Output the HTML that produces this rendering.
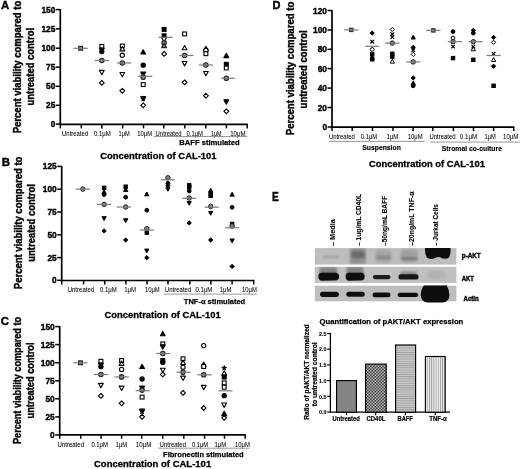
<!DOCTYPE html><html><head><meta charset="utf-8"><style>html,body{margin:0;padding:0;background:#fff;width:520px;height:469px;overflow:hidden;}svg{display:block;will-change:transform;}text{font-family:"Liberation Sans", sans-serif;}</style></head><body>
<svg width="520" height="469" viewBox="0 0 520 469">
<text x="1.0" y="9.2" font-size="11.4" font-weight="bold" text-anchor="start" fill="#000" stroke="#000" stroke-width="0.4">A</text>
<text transform="translate(21.4,67.0) rotate(-90)" font-size="10.2" font-weight="bold" text-anchor="middle" fill="#000" textLength="132.5" lengthAdjust="spacingAndGlyphs" stroke="#000" stroke-width="0.4">Percent viability compared to</text>
<text transform="translate(34.2,66.7) rotate(-90)" font-size="10.2" font-weight="bold" text-anchor="middle" fill="#000" textLength="77.5" lengthAdjust="spacingAndGlyphs" stroke="#000" stroke-width="0.4">untreated control</text>
<line x1="60.3" y1="9.1" x2="60.3" y2="125.0" stroke="#000" stroke-width="1.7"/>
<line x1="55.8" y1="9.6" x2="60.3" y2="9.6" stroke="#000" stroke-width="1.5"/>
<text x="55.3" y="12.6" font-size="8.5" font-weight="bold" text-anchor="end" fill="#000" textLength="13.9" lengthAdjust="spacingAndGlyphs" stroke="#000" stroke-width="0.4">150</text>
<line x1="55.8" y1="28.8" x2="60.3" y2="28.8" stroke="#000" stroke-width="1.5"/>
<text x="55.3" y="31.8" font-size="8.5" font-weight="bold" text-anchor="end" fill="#000" textLength="13.9" lengthAdjust="spacingAndGlyphs" stroke="#000" stroke-width="0.4">125</text>
<line x1="55.8" y1="48.2" x2="60.3" y2="48.2" stroke="#000" stroke-width="1.5"/>
<text x="55.3" y="51.2" font-size="8.5" font-weight="bold" text-anchor="end" fill="#000" textLength="13.9" lengthAdjust="spacingAndGlyphs" stroke="#000" stroke-width="0.4">100</text>
<line x1="55.8" y1="67.2" x2="60.3" y2="67.2" stroke="#000" stroke-width="1.5"/>
<text x="55.3" y="70.2" font-size="8.5" font-weight="bold" text-anchor="end" fill="#000" textLength="9.3" lengthAdjust="spacingAndGlyphs" stroke="#000" stroke-width="0.4">75</text>
<line x1="55.8" y1="86.3" x2="60.3" y2="86.3" stroke="#000" stroke-width="1.5"/>
<text x="55.3" y="89.3" font-size="8.5" font-weight="bold" text-anchor="end" fill="#000" textLength="9.3" lengthAdjust="spacingAndGlyphs" stroke="#000" stroke-width="0.4">50</text>
<line x1="55.8" y1="105.3" x2="60.3" y2="105.3" stroke="#000" stroke-width="1.5"/>
<text x="55.3" y="108.3" font-size="8.5" font-weight="bold" text-anchor="end" fill="#000" textLength="9.3" lengthAdjust="spacingAndGlyphs" stroke="#000" stroke-width="0.4">25</text>
<line x1="55.8" y1="124.1" x2="60.3" y2="124.1" stroke="#000" stroke-width="1.5"/>
<text x="55.3" y="127.1" font-size="8.5" font-weight="bold" text-anchor="end" fill="#000" textLength="4.6" lengthAdjust="spacingAndGlyphs" stroke="#000" stroke-width="0.4">0</text>
<line x1="59.5" y1="124.4" x2="247.9" y2="124.4" stroke="#000" stroke-width="1.7"/>
<line x1="60.3" y1="124.4" x2="60.3" y2="128.4" stroke="#000" stroke-width="1.5"/>
<line x1="81.3" y1="124.4" x2="81.3" y2="128.4" stroke="#000" stroke-width="1.5"/>
<line x1="101.9" y1="124.4" x2="101.9" y2="128.4" stroke="#000" stroke-width="1.5"/>
<line x1="122.7" y1="124.4" x2="122.7" y2="128.4" stroke="#000" stroke-width="1.5"/>
<line x1="143.5" y1="124.4" x2="143.5" y2="128.4" stroke="#000" stroke-width="1.5"/>
<line x1="163.8" y1="124.4" x2="163.8" y2="128.4" stroke="#000" stroke-width="1.5"/>
<line x1="184.8" y1="124.4" x2="184.8" y2="128.4" stroke="#000" stroke-width="1.5"/>
<line x1="205.8" y1="124.4" x2="205.8" y2="128.4" stroke="#000" stroke-width="1.5"/>
<line x1="226.4" y1="124.4" x2="226.4" y2="128.4" stroke="#000" stroke-width="1.5"/>
<line x1="247.2" y1="124.4" x2="247.2" y2="128.4" stroke="#000" stroke-width="1.5"/>
<text x="62.1" y="136.0" font-size="6.4" font-weight="normal" text-anchor="start" fill="#000" textLength="26.0" lengthAdjust="spacingAndGlyphs" stroke="#000" stroke-width="0.05">Untreated</text>
<text x="94.0" y="136.0" font-size="6.4" font-weight="normal" text-anchor="start" fill="#000" textLength="16.8" lengthAdjust="spacingAndGlyphs" stroke="#000" stroke-width="0.05">0.1&#956;M</text>
<text x="118.5" y="136.0" font-size="6.4" font-weight="normal" text-anchor="start" fill="#000" textLength="11.1" lengthAdjust="spacingAndGlyphs" stroke="#000" stroke-width="0.05">1&#956;M</text>
<text x="137.3" y="136.0" font-size="6.4" font-weight="normal" text-anchor="start" fill="#000" textLength="14.8" lengthAdjust="spacingAndGlyphs" stroke="#000" stroke-width="0.05">10&#956;M</text>
<text x="155.6" y="136.0" font-size="6.4" font-weight="normal" text-anchor="start" fill="#000" textLength="25.9" lengthAdjust="spacingAndGlyphs" stroke="#000" stroke-width="0.05">Untreated</text>
<text x="186.6" y="136.0" font-size="6.4" font-weight="normal" text-anchor="start" fill="#000" textLength="16.4" lengthAdjust="spacingAndGlyphs" stroke="#000" stroke-width="0.05">0.1&#956;M</text>
<text x="211.0" y="136.0" font-size="6.4" font-weight="normal" text-anchor="start" fill="#000" textLength="10.3" lengthAdjust="spacingAndGlyphs" stroke="#000" stroke-width="0.05">1&#956;M</text>
<text x="230.2" y="136.0" font-size="6.4" font-weight="normal" text-anchor="start" fill="#000" textLength="15.5" lengthAdjust="spacingAndGlyphs" stroke="#000" stroke-width="0.05">10&#956;M</text>
<line x1="153.8" y1="136.5" x2="247.2" y2="136.5" stroke="#8c8c8c" stroke-width="0.9"/>
<text x="179.3" y="145.4" font-size="7.55" font-weight="bold" text-anchor="start" fill="#000" textLength="60.4" lengthAdjust="spacingAndGlyphs" stroke="#000" stroke-width="0.25">BAFF stimulated</text>
<text x="100.3" y="159.4" font-size="9.6" font-weight="bold" text-anchor="start" fill="#000" textLength="116.3" lengthAdjust="spacingAndGlyphs" stroke="#000" stroke-width="0.3">Concentration of CAL-101</text>
<rect x="78.77" y="46.37" width="3.86" height="3.86" fill="#808080" stroke="#222" stroke-width="1.10"/>
<line x1="73.6" y1="48.3" x2="87.8" y2="48.3" stroke="#7a7a7a" stroke-width="1.2"/>
<rect x="99.87" y="44.47" width="3.86" height="3.86" fill="#fff" stroke="#000" stroke-width="1.10"/>
<polygon points="101.80,52.48 104.19,48.16 99.41,48.16" fill="#000" stroke="#000" stroke-width="1.10" stroke-linejoin="round"/>
<circle cx="101.80" cy="51.60" r="2.12" fill="#000" stroke="#000" stroke-width="1.10"/>
<circle cx="101.80" cy="60.50" r="2.25" fill="#808080" stroke="#222" stroke-width="1.10"/>
<polygon points="101.80,74.68 104.19,70.36 99.41,70.36" fill="#fff" stroke="#000" stroke-width="1.10" stroke-linejoin="round"/>
<polygon points="101.80,80.51 104.19,82.90 101.80,85.29 99.41,82.90" fill="#fff" stroke="#000" stroke-width="1.10"/>
<line x1="94.7" y1="60.5" x2="108.9" y2="60.5" stroke="#7a7a7a" stroke-width="1.2"/>
<rect x="120.37" y="44.07" width="3.86" height="3.86" fill="#fff" stroke="#000" stroke-width="1.10"/>
<polygon points="122.30,46.52 124.69,50.84 119.91,50.84" fill="#fff" stroke="#000" stroke-width="1.10" stroke-linejoin="round"/>
<circle cx="122.30" cy="55.20" r="2.12" fill="#fff" stroke="#000" stroke-width="1.10"/>
<circle cx="122.30" cy="63.00" r="2.25" fill="#808080" stroke="#222" stroke-width="1.10"/>
<polygon points="122.30,76.78 124.69,72.46 119.91,72.46" fill="#fff" stroke="#000" stroke-width="1.10" stroke-linejoin="round"/>
<polygon points="122.30,88.41 124.69,90.80 122.30,93.19 119.91,90.80" fill="#fff" stroke="#000" stroke-width="1.10"/>
<line x1="116.9" y1="63.0" x2="131.1" y2="63.0" stroke="#7a7a7a" stroke-width="1.2"/>
<polygon points="143.20,49.72 145.59,54.04 140.81,54.04" fill="#000" stroke="#000" stroke-width="1.10" stroke-linejoin="round"/>
<circle cx="143.20" cy="65.20" r="2.12" fill="#000" stroke="#000" stroke-width="1.10"/>
<polygon points="143.20,76.48 145.59,72.16 140.81,72.16" fill="#000" stroke="#000" stroke-width="1.10" stroke-linejoin="round"/>
<circle cx="143.20" cy="77.30" r="2.25" fill="#808080" stroke="#222" stroke-width="1.10"/>
<rect x="141.27" y="82.67" width="3.86" height="3.86" fill="#fff" stroke="#000" stroke-width="1.10"/>
<polygon points="143.20,100.88 145.59,96.56 140.81,96.56" fill="#000" stroke="#000" stroke-width="1.10" stroke-linejoin="round"/>
<polygon points="143.20,95.59 144.07,97.71 146.35,97.88 144.60,99.35 145.15,101.58 143.20,100.37 141.25,101.58 141.80,99.35 140.05,97.88 142.33,97.71" fill="#000"/>
<polygon points="143.20,102.91 145.59,105.30 143.20,107.69 140.81,105.30" fill="#fff" stroke="#000" stroke-width="1.10"/>
<line x1="138.0" y1="76.3" x2="152.2" y2="76.3" stroke="#7a7a7a" stroke-width="1.2"/>
<rect x="162.17" y="27.47" width="3.86" height="3.86" fill="#000" stroke="#000" stroke-width="1.10"/>
<rect x="162.17" y="33.87" width="3.86" height="3.86" fill="#000" stroke="#000" stroke-width="1.10"/>
<polygon points="164.10,41.88 166.49,37.56 161.71,37.56" fill="#fff" stroke="#000" stroke-width="1.10" stroke-linejoin="round"/>
<circle cx="164.10" cy="42.90" r="2.25" fill="#808080" stroke="#222" stroke-width="1.10"/>
<polygon points="164.10,43.32 166.49,47.64 161.71,47.64" fill="#808080" stroke="#222" stroke-width="1.10" stroke-linejoin="round"/>
<polygon points="164.10,51.51 166.49,53.90 164.10,56.29 161.71,53.90" fill="#fff" stroke="#000" stroke-width="1.10"/>
<line x1="158.5" y1="37.3" x2="172.7" y2="37.3" stroke="#7a7a7a" stroke-width="1.2"/>
<rect x="182.67" y="31.97" width="3.86" height="3.86" fill="#fff" stroke="#000" stroke-width="1.10"/>
<polygon points="184.60,45.42 186.99,49.74 182.21,49.74" fill="#fff" stroke="#000" stroke-width="1.10" stroke-linejoin="round"/>
<circle cx="184.60" cy="55.50" r="2.25" fill="#808080" stroke="#222" stroke-width="1.10"/>
<polygon points="184.60,65.88 186.99,61.56 182.21,61.56" fill="#fff" stroke="#000" stroke-width="1.10" stroke-linejoin="round"/>
<polygon points="184.60,79.91 186.99,82.30 184.60,84.69 182.21,82.30" fill="#fff" stroke="#000" stroke-width="1.10"/>
<line x1="179.3" y1="55.5" x2="193.5" y2="55.5" stroke="#7a7a7a" stroke-width="1.2"/>
<polygon points="205.90,46.32 208.29,50.64 203.51,50.64" fill="#fff" stroke="#000" stroke-width="1.10" stroke-linejoin="round"/>
<circle cx="205.90" cy="50.20" r="2.12" fill="#fff" stroke="#000" stroke-width="1.10"/>
<rect x="203.97" y="51.77" width="3.86" height="3.86" fill="#fff" stroke="#000" stroke-width="1.10"/>
<circle cx="205.90" cy="65.00" r="2.25" fill="#808080" stroke="#222" stroke-width="1.10"/>
<polygon points="205.90,75.78 208.29,71.46 203.51,71.46" fill="#fff" stroke="#000" stroke-width="1.10" stroke-linejoin="round"/>
<polygon points="205.90,93.31 208.29,95.70 205.90,98.09 203.51,95.70" fill="#fff" stroke="#000" stroke-width="1.10"/>
<line x1="198.8" y1="65.0" x2="213.0" y2="65.0" stroke="#7a7a7a" stroke-width="1.2"/>
<polygon points="226.30,53.32 228.69,57.64 223.91,57.64" fill="#000" stroke="#000" stroke-width="1.10" stroke-linejoin="round"/>
<rect x="224.37" y="62.37" width="3.86" height="3.86" fill="#000" stroke="#000" stroke-width="1.10"/>
<rect x="224.37" y="66.07" width="3.86" height="3.86" fill="#fff" stroke="#000" stroke-width="1.10"/>
<circle cx="226.30" cy="78.20" r="2.25" fill="#808080" stroke="#222" stroke-width="1.10"/>
<polygon points="226.30,104.18 228.69,99.86 223.91,99.86" fill="#000" stroke="#000" stroke-width="1.10" stroke-linejoin="round"/>
<polygon points="226.30,108.91 228.69,111.30 226.30,113.69 223.91,111.30" fill="#fff" stroke="#000" stroke-width="1.10"/>
<line x1="220.7" y1="78.2" x2="234.9" y2="78.2" stroke="#7a7a7a" stroke-width="1.2"/>
<text x="1.8" y="166.0" font-size="11.4" font-weight="bold" text-anchor="start" fill="#000" stroke="#000" stroke-width="0.4">B</text>
<text transform="translate(22.1,222.9) rotate(-90)" font-size="10.2" font-weight="bold" text-anchor="middle" fill="#000" textLength="132.5" lengthAdjust="spacingAndGlyphs" stroke="#000" stroke-width="0.4">Percent viability compared to</text>
<text transform="translate(34.6,222.9) rotate(-90)" font-size="10.2" font-weight="bold" text-anchor="middle" fill="#000" textLength="77.5" lengthAdjust="spacingAndGlyphs" stroke="#000" stroke-width="0.4">untreated control</text>
<line x1="61.7" y1="165.9" x2="61.7" y2="281.2" stroke="#000" stroke-width="1.7"/>
<line x1="57.2" y1="166.4" x2="61.7" y2="166.4" stroke="#000" stroke-width="1.5"/>
<text x="56.7" y="169.4" font-size="8.5" font-weight="bold" text-anchor="end" fill="#000" textLength="13.9" lengthAdjust="spacingAndGlyphs" stroke="#000" stroke-width="0.4">125</text>
<line x1="57.2" y1="189.2" x2="61.7" y2="189.2" stroke="#000" stroke-width="1.5"/>
<text x="56.7" y="192.2" font-size="8.5" font-weight="bold" text-anchor="end" fill="#000" textLength="13.9" lengthAdjust="spacingAndGlyphs" stroke="#000" stroke-width="0.4">100</text>
<line x1="57.2" y1="212.0" x2="61.7" y2="212.0" stroke="#000" stroke-width="1.5"/>
<text x="56.7" y="215.0" font-size="8.5" font-weight="bold" text-anchor="end" fill="#000" textLength="9.3" lengthAdjust="spacingAndGlyphs" stroke="#000" stroke-width="0.4">75</text>
<line x1="57.2" y1="234.8" x2="61.7" y2="234.8" stroke="#000" stroke-width="1.5"/>
<text x="56.7" y="237.8" font-size="8.5" font-weight="bold" text-anchor="end" fill="#000" textLength="9.3" lengthAdjust="spacingAndGlyphs" stroke="#000" stroke-width="0.4">50</text>
<line x1="57.2" y1="257.6" x2="61.7" y2="257.6" stroke="#000" stroke-width="1.5"/>
<text x="56.7" y="260.6" font-size="8.5" font-weight="bold" text-anchor="end" fill="#000" textLength="9.3" lengthAdjust="spacingAndGlyphs" stroke="#000" stroke-width="0.4">25</text>
<line x1="57.2" y1="280.3" x2="61.7" y2="280.3" stroke="#000" stroke-width="1.5"/>
<text x="56.7" y="283.3" font-size="8.5" font-weight="bold" text-anchor="end" fill="#000" textLength="4.6" lengthAdjust="spacingAndGlyphs" stroke="#000" stroke-width="0.4">0</text>
<line x1="60.9" y1="280.5" x2="254.4" y2="280.5" stroke="#000" stroke-width="1.7"/>
<line x1="61.7" y1="280.5" x2="61.7" y2="284.5" stroke="#000" stroke-width="1.5"/>
<line x1="83.6" y1="280.5" x2="83.6" y2="284.5" stroke="#000" stroke-width="1.5"/>
<line x1="104.7" y1="280.5" x2="104.7" y2="284.5" stroke="#000" stroke-width="1.5"/>
<line x1="125.9" y1="280.5" x2="125.9" y2="284.5" stroke="#000" stroke-width="1.5"/>
<line x1="147.0" y1="280.5" x2="147.0" y2="284.5" stroke="#000" stroke-width="1.5"/>
<line x1="168.0" y1="280.5" x2="168.0" y2="284.5" stroke="#000" stroke-width="1.5"/>
<line x1="189.8" y1="280.5" x2="189.8" y2="284.5" stroke="#000" stroke-width="1.5"/>
<line x1="210.9" y1="280.5" x2="210.9" y2="284.5" stroke="#000" stroke-width="1.5"/>
<line x1="232.1" y1="280.5" x2="232.1" y2="284.5" stroke="#000" stroke-width="1.5"/>
<line x1="253.7" y1="280.5" x2="253.7" y2="284.5" stroke="#000" stroke-width="1.5"/>
<text x="67.7" y="292.3" font-size="6.4" font-weight="normal" text-anchor="start" fill="#000" textLength="26.4" lengthAdjust="spacingAndGlyphs" stroke="#000" stroke-width="0.05">Untreated</text>
<text x="100.0" y="292.3" font-size="6.4" font-weight="normal" text-anchor="start" fill="#000" textLength="16.8" lengthAdjust="spacingAndGlyphs" stroke="#000" stroke-width="0.05">0.1&#956;M</text>
<text x="124.2" y="292.3" font-size="6.4" font-weight="normal" text-anchor="start" fill="#000" textLength="11.8" lengthAdjust="spacingAndGlyphs" stroke="#000" stroke-width="0.05">1&#956;M</text>
<text x="144.9" y="292.3" font-size="6.4" font-weight="normal" text-anchor="start" fill="#000" textLength="14.8" lengthAdjust="spacingAndGlyphs" stroke="#000" stroke-width="0.05">10&#956;M</text>
<text x="164.8" y="292.3" font-size="6.4" font-weight="normal" text-anchor="start" fill="#000" textLength="26.5" lengthAdjust="spacingAndGlyphs" stroke="#000" stroke-width="0.05">Untreated</text>
<text x="195.5" y="292.3" font-size="6.4" font-weight="normal" text-anchor="start" fill="#000" textLength="16.9" lengthAdjust="spacingAndGlyphs" stroke="#000" stroke-width="0.05">0.1&#956;M</text>
<text x="219.8" y="292.3" font-size="6.4" font-weight="normal" text-anchor="start" fill="#000" textLength="11.6" lengthAdjust="spacingAndGlyphs" stroke="#000" stroke-width="0.05">1&#956;M</text>
<text x="242.0" y="292.3" font-size="6.4" font-weight="normal" text-anchor="start" fill="#000" textLength="14.8" lengthAdjust="spacingAndGlyphs" stroke="#000" stroke-width="0.05">10&#956;M</text>
<line x1="163.8" y1="294.1" x2="256.8" y2="294.1" stroke="#8c8c8c" stroke-width="0.9"/>
<text x="183.8" y="303.5" font-size="7.55" font-weight="bold" text-anchor="start" fill="#000" textLength="61.4" lengthAdjust="spacingAndGlyphs" stroke="#000" stroke-width="0.25">TNF-&#945; stimulated</text>
<text x="104.5" y="318.0" font-size="9.6" font-weight="bold" text-anchor="start" fill="#000" textLength="116.2" lengthAdjust="spacingAndGlyphs" stroke="#000" stroke-width="0.3">Concentration of CAL-101</text>
<circle cx="82.80" cy="189.10" r="2.25" fill="#808080" stroke="#222" stroke-width="0.99"/>
<line x1="75.7" y1="189.1" x2="89.9" y2="189.1" stroke="#7a7a7a" stroke-width="1.2"/>
<rect x="102.38" y="186.08" width="3.44" height="3.44" fill="#000" stroke="#000" stroke-width="0.99"/>
<polygon points="104.10,189.79 106.23,193.64 101.97,193.64" fill="#000" stroke="#000" stroke-width="0.99" stroke-linejoin="round"/>
<circle cx="104.10" cy="194.60" r="1.89" fill="#000" stroke="#000" stroke-width="0.99"/>
<circle cx="104.10" cy="204.40" r="2.25" fill="#808080" stroke="#222" stroke-width="0.99"/>
<polygon points="104.10,220.51 106.23,216.66 101.97,216.66" fill="#000" stroke="#000" stroke-width="0.99" stroke-linejoin="round"/>
<polygon points="104.10,228.77 106.23,230.90 104.10,233.03 101.97,230.90" fill="#000" stroke="#000" stroke-width="0.99"/>
<line x1="97.0" y1="204.4" x2="111.2" y2="204.4" stroke="#7a7a7a" stroke-width="1.2"/>
<rect x="123.98" y="184.98" width="3.44" height="3.44" fill="#000" stroke="#000" stroke-width="0.99"/>
<polygon points="125.70,187.69 127.83,191.54 123.57,191.54" fill="#000" stroke="#000" stroke-width="0.99" stroke-linejoin="round"/>
<circle cx="125.70" cy="197.20" r="1.89" fill="#000" stroke="#000" stroke-width="0.99"/>
<circle cx="125.70" cy="207.00" r="2.25" fill="#808080" stroke="#222" stroke-width="0.99"/>
<polygon points="125.70,222.61 127.83,218.76 123.57,218.76" fill="#000" stroke="#000" stroke-width="0.99" stroke-linejoin="round"/>
<polygon points="125.70,237.87 127.83,240.00 125.70,242.13 123.57,240.00" fill="#000" stroke="#000" stroke-width="0.99"/>
<line x1="116.8" y1="207.0" x2="131.0" y2="207.0" stroke="#7a7a7a" stroke-width="1.2"/>
<polygon points="146.80,191.99 148.93,195.84 144.67,195.84" fill="#000" stroke="#000" stroke-width="0.99" stroke-linejoin="round"/>
<circle cx="146.80" cy="210.20" r="1.89" fill="#000" stroke="#000" stroke-width="0.99"/>
<rect x="145.08" y="230.88" width="3.44" height="3.44" fill="#000" stroke="#000" stroke-width="0.99"/>
<circle cx="146.80" cy="228.70" r="2.25" fill="#808080" stroke="#222" stroke-width="0.99"/>
<polygon points="146.80,252.91 148.93,249.06 144.67,249.06" fill="#000" stroke="#000" stroke-width="0.99" stroke-linejoin="round"/>
<polygon points="146.80,255.57 148.93,257.70 146.80,259.83 144.67,257.70" fill="#000" stroke="#000" stroke-width="0.99"/>
<line x1="139.7" y1="230.0" x2="153.9" y2="230.0" stroke="#7a7a7a" stroke-width="1.2"/>
<circle cx="167.90" cy="177.80" r="2.25" fill="#808080" stroke="#222" stroke-width="0.99"/>
<circle cx="167.90" cy="183.30" r="1.89" fill="#000" stroke="#000" stroke-width="0.99"/>
<polygon points="167.90,183.67 170.03,185.80 167.90,187.93 165.77,185.80" fill="#000" stroke="#000" stroke-width="0.99"/>
<polygon points="167.90,191.31 170.03,187.46 165.77,187.46" fill="#000" stroke="#000" stroke-width="0.99" stroke-linejoin="round"/>
<line x1="160.8" y1="179.8" x2="175.0" y2="179.8" stroke="#7a7a7a" stroke-width="1.2"/>
<rect x="187.48" y="183.58" width="3.44" height="3.44" fill="#000" stroke="#000" stroke-width="0.99"/>
<rect x="187.48" y="185.28" width="3.44" height="3.44" fill="#000" stroke="#000" stroke-width="0.99"/>
<circle cx="189.20" cy="191.00" r="1.89" fill="#000" stroke="#000" stroke-width="0.99"/>
<circle cx="189.20" cy="198.00" r="2.25" fill="#808080" stroke="#222" stroke-width="0.99"/>
<polygon points="189.20,205.31 191.33,201.46 187.07,201.46" fill="#000" stroke="#000" stroke-width="0.99" stroke-linejoin="round"/>
<polygon points="189.20,220.77 191.33,222.90 189.20,225.03 187.07,222.90" fill="#000" stroke="#000" stroke-width="0.99"/>
<line x1="182.1" y1="198.3" x2="196.3" y2="198.3" stroke="#7a7a7a" stroke-width="1.2"/>
<polygon points="210.70,188.29 212.83,192.14 208.57,192.14" fill="#000" stroke="#000" stroke-width="0.99" stroke-linejoin="round"/>
<rect x="208.98" y="192.28" width="3.44" height="3.44" fill="#000" stroke="#000" stroke-width="0.99"/>
<rect x="208.98" y="194.08" width="3.44" height="3.44" fill="#000" stroke="#000" stroke-width="0.99"/>
<circle cx="210.70" cy="206.40" r="2.25" fill="#808080" stroke="#222" stroke-width="0.99"/>
<polygon points="210.70,215.21 212.83,211.36 208.57,211.36" fill="#000" stroke="#000" stroke-width="0.99" stroke-linejoin="round"/>
<polygon points="210.70,237.87 212.83,240.00 210.70,242.13 208.57,240.00" fill="#000" stroke="#000" stroke-width="0.99"/>
<line x1="204.6" y1="207.2" x2="218.8" y2="207.2" stroke="#7a7a7a" stroke-width="1.2"/>
<polygon points="232.10,192.29 234.23,196.14 229.97,196.14" fill="#000" stroke="#000" stroke-width="0.99" stroke-linejoin="round"/>
<circle cx="232.10" cy="207.30" r="1.89" fill="#000" stroke="#000" stroke-width="0.99"/>
<rect x="230.38" y="222.28" width="3.44" height="3.44" fill="#000" stroke="#000" stroke-width="0.99"/>
<circle cx="232.10" cy="226.10" r="2.25" fill="#808080" stroke="#222" stroke-width="0.99"/>
<polygon points="232.10,242.81 234.23,238.96 229.97,238.96" fill="#000" stroke="#000" stroke-width="0.99" stroke-linejoin="round"/>
<polygon points="232.10,264.27 234.23,266.40 232.10,268.53 229.97,266.40" fill="#000" stroke="#000" stroke-width="0.99"/>
<line x1="225.0" y1="227.8" x2="239.2" y2="227.8" stroke="#7a7a7a" stroke-width="1.2"/>
<text x="0.8" y="325.2" font-size="11.4" font-weight="bold" text-anchor="start" fill="#000" stroke="#000" stroke-width="0.4">C</text>
<text transform="translate(21.4,380.5) rotate(-90)" font-size="10.2" font-weight="bold" text-anchor="middle" fill="#000" textLength="127.0" lengthAdjust="spacingAndGlyphs" stroke="#000" stroke-width="0.4">Percent viability compared to</text>
<text transform="translate(33.8,380.5) rotate(-90)" font-size="10.2" font-weight="bold" text-anchor="middle" fill="#000" textLength="76.0" lengthAdjust="spacingAndGlyphs" stroke="#000" stroke-width="0.4">untreated control</text>
<line x1="59.7" y1="326.1" x2="59.7" y2="435.9" stroke="#000" stroke-width="1.7"/>
<line x1="55.2" y1="326.6" x2="59.7" y2="326.6" stroke="#000" stroke-width="1.5"/>
<text x="54.7" y="329.6" font-size="8.5" font-weight="bold" text-anchor="end" fill="#000" textLength="13.9" lengthAdjust="spacingAndGlyphs" stroke="#000" stroke-width="0.4">150</text>
<line x1="55.2" y1="344.6" x2="59.7" y2="344.6" stroke="#000" stroke-width="1.5"/>
<text x="54.7" y="347.6" font-size="8.5" font-weight="bold" text-anchor="end" fill="#000" textLength="13.9" lengthAdjust="spacingAndGlyphs" stroke="#000" stroke-width="0.4">125</text>
<line x1="55.2" y1="362.8" x2="59.7" y2="362.8" stroke="#000" stroke-width="1.5"/>
<text x="54.7" y="365.8" font-size="8.5" font-weight="bold" text-anchor="end" fill="#000" textLength="13.9" lengthAdjust="spacingAndGlyphs" stroke="#000" stroke-width="0.4">100</text>
<line x1="55.2" y1="380.8" x2="59.7" y2="380.8" stroke="#000" stroke-width="1.5"/>
<text x="54.7" y="383.8" font-size="8.5" font-weight="bold" text-anchor="end" fill="#000" textLength="9.3" lengthAdjust="spacingAndGlyphs" stroke="#000" stroke-width="0.4">75</text>
<line x1="55.2" y1="398.8" x2="59.7" y2="398.8" stroke="#000" stroke-width="1.5"/>
<text x="54.7" y="401.8" font-size="8.5" font-weight="bold" text-anchor="end" fill="#000" textLength="9.3" lengthAdjust="spacingAndGlyphs" stroke="#000" stroke-width="0.4">50</text>
<line x1="55.2" y1="416.9" x2="59.7" y2="416.9" stroke="#000" stroke-width="1.5"/>
<text x="54.7" y="419.9" font-size="8.5" font-weight="bold" text-anchor="end" fill="#000" textLength="9.3" lengthAdjust="spacingAndGlyphs" stroke="#000" stroke-width="0.4">25</text>
<line x1="55.2" y1="435.0" x2="59.7" y2="435.0" stroke="#000" stroke-width="1.5"/>
<text x="54.7" y="438.0" font-size="8.5" font-weight="bold" text-anchor="end" fill="#000" textLength="4.6" lengthAdjust="spacingAndGlyphs" stroke="#000" stroke-width="0.4">0</text>
<line x1="58.9" y1="434.8" x2="245.9" y2="434.8" stroke="#000" stroke-width="1.7"/>
<line x1="59.7" y1="434.8" x2="59.7" y2="438.8" stroke="#000" stroke-width="1.5"/>
<line x1="80.8" y1="434.8" x2="80.8" y2="438.8" stroke="#000" stroke-width="1.5"/>
<line x1="101.1" y1="434.8" x2="101.1" y2="438.8" stroke="#000" stroke-width="1.5"/>
<line x1="121.6" y1="434.8" x2="121.6" y2="438.8" stroke="#000" stroke-width="1.5"/>
<line x1="141.7" y1="434.8" x2="141.7" y2="438.8" stroke="#000" stroke-width="1.5"/>
<line x1="162.7" y1="434.8" x2="162.7" y2="438.8" stroke="#000" stroke-width="1.5"/>
<line x1="183.8" y1="434.8" x2="183.8" y2="438.8" stroke="#000" stroke-width="1.5"/>
<line x1="204.6" y1="434.8" x2="204.6" y2="438.8" stroke="#000" stroke-width="1.5"/>
<line x1="224.5" y1="434.8" x2="224.5" y2="438.8" stroke="#000" stroke-width="1.5"/>
<line x1="245.2" y1="434.8" x2="245.2" y2="438.8" stroke="#000" stroke-width="1.5"/>
<text x="57.5" y="446.7" font-size="6.4" font-weight="normal" text-anchor="start" fill="#000" textLength="26.5" lengthAdjust="spacingAndGlyphs" stroke="#000" stroke-width="0.05">Untreated</text>
<text x="91.4" y="446.7" font-size="6.4" font-weight="normal" text-anchor="start" fill="#000" textLength="16.5" lengthAdjust="spacingAndGlyphs" stroke="#000" stroke-width="0.05">0.1&#956;M</text>
<text x="115.7" y="446.7" font-size="6.4" font-weight="normal" text-anchor="start" fill="#000" textLength="11.6" lengthAdjust="spacingAndGlyphs" stroke="#000" stroke-width="0.05">1&#956;M</text>
<text x="135.8" y="446.7" font-size="6.4" font-weight="normal" text-anchor="start" fill="#000" textLength="15.5" lengthAdjust="spacingAndGlyphs" stroke="#000" stroke-width="0.05">10&#956;M</text>
<text x="159.5" y="446.7" font-size="6.4" font-weight="normal" text-anchor="start" fill="#000" textLength="26.5" lengthAdjust="spacingAndGlyphs" stroke="#000" stroke-width="0.05">Untreated</text>
<text x="191.9" y="446.7" font-size="6.4" font-weight="normal" text-anchor="start" fill="#000" textLength="16.3" lengthAdjust="spacingAndGlyphs" stroke="#000" stroke-width="0.05">0.1&#956;M</text>
<text x="214.5" y="446.7" font-size="6.4" font-weight="normal" text-anchor="start" fill="#000" textLength="11.7" lengthAdjust="spacingAndGlyphs" stroke="#000" stroke-width="0.05">1&#956;M</text>
<text x="235.0" y="446.7" font-size="6.4" font-weight="normal" text-anchor="start" fill="#000" textLength="14.9" lengthAdjust="spacingAndGlyphs" stroke="#000" stroke-width="0.05">10&#956;M</text>
<line x1="158.5" y1="448.2" x2="249.4" y2="448.2" stroke="#8c8c8c" stroke-width="0.9"/>
<text x="163.1" y="457.2" font-size="7.55" font-weight="bold" text-anchor="start" fill="#000" textLength="80.6" lengthAdjust="spacingAndGlyphs" stroke="#000" stroke-width="0.25">Fibronectin stimulated</text>
<text x="94.0" y="466.9" font-size="9.6" font-weight="bold" text-anchor="start" fill="#000" textLength="117.2" lengthAdjust="spacingAndGlyphs" stroke="#000" stroke-width="0.3">Concentration of CAL-101</text>
<rect x="78.57" y="360.87" width="3.86" height="3.86" fill="#808080" stroke="#222" stroke-width="1.10"/>
<line x1="73.4" y1="362.8" x2="87.6" y2="362.8" stroke="#7a7a7a" stroke-width="1.2"/>
<rect x="98.97" y="359.37" width="3.86" height="3.86" fill="#fff" stroke="#000" stroke-width="1.10"/>
<polygon points="100.90,367.48 103.29,363.16 98.51,363.16" fill="#000" stroke="#000" stroke-width="1.10" stroke-linejoin="round"/>
<circle cx="100.90" cy="366.70" r="2.12" fill="#000" stroke="#000" stroke-width="1.10"/>
<circle cx="100.90" cy="374.50" r="2.25" fill="#808080" stroke="#222" stroke-width="1.10"/>
<polygon points="100.90,387.68 103.29,383.36 98.51,383.36" fill="#fff" stroke="#000" stroke-width="1.10" stroke-linejoin="round"/>
<polygon points="100.90,393.51 103.29,395.90 100.90,398.29 98.51,395.90" fill="#fff" stroke="#000" stroke-width="1.10"/>
<line x1="93.8" y1="374.5" x2="108.0" y2="374.5" stroke="#7a7a7a" stroke-width="1.2"/>
<rect x="119.67" y="358.57" width="3.86" height="3.86" fill="#fff" stroke="#000" stroke-width="1.10"/>
<polygon points="121.60,361.02 123.99,365.34 119.21,365.34" fill="#fff" stroke="#000" stroke-width="1.10" stroke-linejoin="round"/>
<circle cx="121.60" cy="369.40" r="2.12" fill="#fff" stroke="#000" stroke-width="1.10"/>
<circle cx="121.60" cy="376.90" r="2.25" fill="#808080" stroke="#222" stroke-width="1.10"/>
<polygon points="121.60,390.48 123.99,386.16 119.21,386.16" fill="#fff" stroke="#000" stroke-width="1.10" stroke-linejoin="round"/>
<polygon points="121.60,400.91 123.99,403.30 121.60,405.69 119.21,403.30" fill="#fff" stroke="#000" stroke-width="1.10"/>
<line x1="114.5" y1="376.9" x2="128.7" y2="376.9" stroke="#7a7a7a" stroke-width="1.2"/>
<polygon points="142.10,364.22 144.49,368.54 139.71,368.54" fill="#000" stroke="#000" stroke-width="1.10" stroke-linejoin="round"/>
<circle cx="142.10" cy="379.00" r="2.12" fill="#000" stroke="#000" stroke-width="1.10"/>
<polygon points="142.10,390.48 144.49,386.16 139.71,386.16" fill="#000" stroke="#000" stroke-width="1.10" stroke-linejoin="round"/>
<circle cx="142.10" cy="390.10" r="2.25" fill="#808080" stroke="#222" stroke-width="1.10"/>
<rect x="140.17" y="395.17" width="3.86" height="3.86" fill="#fff" stroke="#000" stroke-width="1.10"/>
<polygon points="142.10,413.48 144.49,409.16 139.71,409.16" fill="#000" stroke="#000" stroke-width="1.10" stroke-linejoin="round"/>
<polygon points="142.10,408.19 142.97,410.31 145.25,410.48 143.50,411.95 144.05,414.18 142.10,412.97 140.15,414.18 140.70,411.95 138.95,410.48 141.23,410.31" fill="#000"/>
<polygon points="142.10,414.41 144.49,416.80 142.10,419.19 139.71,416.80" fill="#fff" stroke="#000" stroke-width="1.10"/>
<line x1="135.7" y1="390.7" x2="149.9" y2="390.7" stroke="#7a7a7a" stroke-width="1.2"/>
<polygon points="162.80,331.42 165.19,335.74 160.41,335.74" fill="#000" stroke="#000" stroke-width="1.10" stroke-linejoin="round"/>
<rect x="160.87" y="341.97" width="3.86" height="3.86" fill="#fff" stroke="#000" stroke-width="1.10"/>
<polygon points="162.80,349.18 165.19,344.86 160.41,344.86" fill="#000" stroke="#000" stroke-width="1.10" stroke-linejoin="round"/>
<circle cx="162.80" cy="353.50" r="2.25" fill="#808080" stroke="#222" stroke-width="1.10"/>
<rect x="160.87" y="358.57" width="3.86" height="3.86" fill="#000" stroke="#000" stroke-width="1.10"/>
<circle cx="162.80" cy="362.40" r="2.12" fill="#000" stroke="#000" stroke-width="1.10"/>
<polygon points="162.80,372.58 165.19,368.26 160.41,368.26" fill="#fff" stroke="#000" stroke-width="1.10" stroke-linejoin="round"/>
<polygon points="162.80,372.01 165.19,374.40 162.80,376.79 160.41,374.40" fill="#fff" stroke="#000" stroke-width="1.10"/>
<line x1="156.2" y1="353.5" x2="170.4" y2="353.5" stroke="#7a7a7a" stroke-width="1.2"/>
<rect x="181.07" y="356.87" width="3.86" height="3.86" fill="#fff" stroke="#000" stroke-width="1.10"/>
<polygon points="183.00,360.12 185.39,364.44 180.61,364.44" fill="#fff" stroke="#000" stroke-width="1.10" stroke-linejoin="round"/>
<circle cx="183.00" cy="367.30" r="2.12" fill="#fff" stroke="#000" stroke-width="1.10"/>
<circle cx="183.00" cy="372.20" r="2.25" fill="#808080" stroke="#222" stroke-width="1.10"/>
<polygon points="183.00,380.48 185.39,376.16 180.61,376.16" fill="#fff" stroke="#000" stroke-width="1.10" stroke-linejoin="round"/>
<polygon points="183.00,390.51 185.39,392.90 183.00,395.29 180.61,392.90" fill="#fff" stroke="#000" stroke-width="1.10"/>
<line x1="176.5" y1="372.2" x2="190.7" y2="372.2" stroke="#7a7a7a" stroke-width="1.2"/>
<circle cx="203.70" cy="345.60" r="2.12" fill="#fff" stroke="#000" stroke-width="1.10"/>
<polygon points="203.70,362.12 206.09,366.44 201.31,366.44" fill="#fff" stroke="#000" stroke-width="1.10" stroke-linejoin="round"/>
<rect x="201.77" y="364.57" width="3.86" height="3.86" fill="#fff" stroke="#000" stroke-width="1.10"/>
<circle cx="203.70" cy="374.80" r="2.25" fill="#808080" stroke="#222" stroke-width="1.10"/>
<polygon points="203.70,389.68 206.09,385.36 201.31,385.36" fill="#fff" stroke="#000" stroke-width="1.10" stroke-linejoin="round"/>
<polygon points="203.70,405.61 206.09,408.00 203.70,410.39 201.31,408.00" fill="#fff" stroke="#000" stroke-width="1.10"/>
<line x1="197.4" y1="374.8" x2="211.6" y2="374.8" stroke="#7a7a7a" stroke-width="1.2"/>
<polygon points="224.20,364.69 225.07,366.81 227.35,366.98 225.60,368.45 226.15,370.68 224.20,369.47 222.25,370.68 222.80,368.45 221.05,366.98 223.33,366.81" fill="#000"/>
<polygon points="224.20,370.82 226.59,375.14 221.81,375.14" fill="#fff" stroke="#000" stroke-width="1.10" stroke-linejoin="round"/>
<rect x="222.27" y="375.17" width="3.86" height="3.86" fill="#000" stroke="#000" stroke-width="1.10"/>
<rect x="222.27" y="380.97" width="3.86" height="3.86" fill="#fff" stroke="#000" stroke-width="1.10"/>
<rect x="222.27" y="385.27" width="3.86" height="3.86" fill="#fff" stroke="#000" stroke-width="1.10"/>
<circle cx="224.20" cy="395.70" r="2.12" fill="#000" stroke="#000" stroke-width="1.10"/>
<polygon points="224.20,407.38 226.59,403.06 221.81,403.06" fill="#fff" stroke="#000" stroke-width="1.10" stroke-linejoin="round"/>
<polygon points="224.20,411.32 226.59,415.64 221.81,415.64" fill="#000" stroke="#000" stroke-width="1.10" stroke-linejoin="round"/>
<polygon points="224.20,415.41 226.59,417.80 224.20,420.19 221.81,417.80" fill="#fff" stroke="#000" stroke-width="1.10"/>
<line x1="218.3" y1="390.8" x2="232.5" y2="390.8" stroke="#7a7a7a" stroke-width="1.2"/>
<text x="272.6" y="9.3" font-size="11.0" font-weight="bold" text-anchor="start" fill="#000" stroke="#000" stroke-width="0.4">D</text>
<text transform="translate(294.4,68.5) rotate(-90)" font-size="10.2" font-weight="bold" text-anchor="middle" fill="#000" textLength="133.5" lengthAdjust="spacingAndGlyphs" stroke="#000" stroke-width="0.4">Percent viability compared to</text>
<text transform="translate(306.9,69.4) rotate(-90)" font-size="10.2" font-weight="bold" text-anchor="middle" fill="#000" textLength="78.0" lengthAdjust="spacingAndGlyphs" stroke="#000" stroke-width="0.4">untreated control</text>
<line x1="332.0" y1="10.0" x2="332.0" y2="128.0" stroke="#000" stroke-width="1.7"/>
<line x1="327.5" y1="10.5" x2="332.0" y2="10.5" stroke="#000" stroke-width="1.5"/>
<text x="327.0" y="13.5" font-size="8.5" font-weight="bold" text-anchor="end" fill="#000" textLength="13.9" lengthAdjust="spacingAndGlyphs" stroke="#000" stroke-width="0.4">120</text>
<line x1="327.5" y1="30.0" x2="332.0" y2="30.0" stroke="#000" stroke-width="1.5"/>
<text x="327.0" y="33.0" font-size="8.5" font-weight="bold" text-anchor="end" fill="#000" textLength="13.9" lengthAdjust="spacingAndGlyphs" stroke="#000" stroke-width="0.4">100</text>
<line x1="327.5" y1="49.3" x2="332.0" y2="49.3" stroke="#000" stroke-width="1.5"/>
<text x="327.0" y="52.3" font-size="8.5" font-weight="bold" text-anchor="end" fill="#000" textLength="9.3" lengthAdjust="spacingAndGlyphs" stroke="#000" stroke-width="0.4">80</text>
<line x1="327.5" y1="68.6" x2="332.0" y2="68.6" stroke="#000" stroke-width="1.5"/>
<text x="327.0" y="71.6" font-size="8.5" font-weight="bold" text-anchor="end" fill="#000" textLength="9.3" lengthAdjust="spacingAndGlyphs" stroke="#000" stroke-width="0.4">60</text>
<line x1="327.5" y1="88.1" x2="332.0" y2="88.1" stroke="#000" stroke-width="1.5"/>
<text x="327.0" y="91.1" font-size="8.5" font-weight="bold" text-anchor="end" fill="#000" textLength="9.3" lengthAdjust="spacingAndGlyphs" stroke="#000" stroke-width="0.4">40</text>
<line x1="327.5" y1="107.5" x2="332.0" y2="107.5" stroke="#000" stroke-width="1.5"/>
<text x="327.0" y="110.5" font-size="8.5" font-weight="bold" text-anchor="end" fill="#000" textLength="9.3" lengthAdjust="spacingAndGlyphs" stroke="#000" stroke-width="0.4">20</text>
<line x1="327.5" y1="127.0" x2="332.0" y2="127.0" stroke="#000" stroke-width="1.5"/>
<text x="327.0" y="130.0" font-size="8.5" font-weight="bold" text-anchor="end" fill="#000" textLength="4.6" lengthAdjust="spacingAndGlyphs" stroke="#000" stroke-width="0.4">0</text>
<line x1="331.2" y1="127.1" x2="514.4" y2="127.1" stroke="#000" stroke-width="1.7"/>
<line x1="332.0" y1="127.1" x2="332.0" y2="131.1" stroke="#000" stroke-width="1.5"/>
<line x1="352.2" y1="127.1" x2="352.2" y2="131.1" stroke="#000" stroke-width="1.5"/>
<line x1="372.5" y1="127.1" x2="372.5" y2="131.1" stroke="#000" stroke-width="1.5"/>
<line x1="393.0" y1="127.1" x2="393.0" y2="131.1" stroke="#000" stroke-width="1.5"/>
<line x1="413.1" y1="127.1" x2="413.1" y2="131.1" stroke="#000" stroke-width="1.5"/>
<line x1="432.8" y1="127.1" x2="432.8" y2="131.1" stroke="#000" stroke-width="1.5"/>
<line x1="453.4" y1="127.1" x2="453.4" y2="131.1" stroke="#000" stroke-width="1.5"/>
<line x1="473.5" y1="127.1" x2="473.5" y2="131.1" stroke="#000" stroke-width="1.5"/>
<line x1="493.6" y1="127.1" x2="493.6" y2="131.1" stroke="#000" stroke-width="1.5"/>
<line x1="513.7" y1="127.1" x2="513.7" y2="131.1" stroke="#000" stroke-width="1.5"/>
<text x="328.9" y="138.5" font-size="6.4" font-weight="normal" text-anchor="start" fill="#000" textLength="26.0" lengthAdjust="spacingAndGlyphs" stroke="#000" stroke-width="0.05">Untreated</text>
<text x="360.8" y="138.5" font-size="6.4" font-weight="normal" text-anchor="start" fill="#000" textLength="16.3" lengthAdjust="spacingAndGlyphs" stroke="#000" stroke-width="0.05">0.1&#956;M</text>
<text x="386.6" y="138.5" font-size="6.4" font-weight="normal" text-anchor="start" fill="#000" textLength="11.7" lengthAdjust="spacingAndGlyphs" stroke="#000" stroke-width="0.05">1&#956;M</text>
<text x="407.8" y="138.5" font-size="6.4" font-weight="normal" text-anchor="start" fill="#000" textLength="14.8" lengthAdjust="spacingAndGlyphs" stroke="#000" stroke-width="0.05">10&#956;M</text>
<text x="429.5" y="138.5" font-size="6.4" font-weight="normal" text-anchor="start" fill="#000" textLength="26.0" lengthAdjust="spacingAndGlyphs" stroke="#000" stroke-width="0.05">Untreated</text>
<text x="459.7" y="138.5" font-size="6.4" font-weight="normal" text-anchor="start" fill="#000" textLength="17.6" lengthAdjust="spacingAndGlyphs" stroke="#000" stroke-width="0.05">0.1&#956;M</text>
<text x="484.5" y="138.5" font-size="6.4" font-weight="normal" text-anchor="start" fill="#000" textLength="11.2" lengthAdjust="spacingAndGlyphs" stroke="#000" stroke-width="0.05">1&#956;M</text>
<text x="503.1" y="138.5" font-size="6.4" font-weight="normal" text-anchor="start" fill="#000" textLength="15.2" lengthAdjust="spacingAndGlyphs" stroke="#000" stroke-width="0.05">10&#956;M</text>
<line x1="328.9" y1="141.4" x2="424.7" y2="141.4" stroke="#8c8c8c" stroke-width="0.9"/>
<line x1="430.1" y1="142.1" x2="520.0" y2="142.1" stroke="#8c8c8c" stroke-width="0.9"/>
<text x="362.3" y="150.0" font-size="6.8" font-weight="bold" text-anchor="start" fill="#000" textLength="38.5" lengthAdjust="spacingAndGlyphs" stroke="#000" stroke-width="0.15">Suspension</text>
<text x="441.7" y="150.5" font-size="6.8" font-weight="bold" text-anchor="start" fill="#000" textLength="60.3" lengthAdjust="spacingAndGlyphs" stroke="#000" stroke-width="0.15">Stromal co-culture</text>
<text x="368.9" y="166.7" font-size="9.6" font-weight="bold" text-anchor="start" fill="#000" textLength="116.0" lengthAdjust="spacingAndGlyphs" stroke="#000" stroke-width="0.3">Concentration of CAL-101</text>
<rect x="349.58" y="28.18" width="3.44" height="3.44" fill="#808080" stroke="#222" stroke-width="0.99"/>
<line x1="344.2" y1="29.9" x2="358.4" y2="29.9" stroke="#7a7a7a" stroke-width="1.2"/>
<polygon points="372.20,30.97 374.33,33.10 372.20,35.23 370.07,33.10" fill="#000" stroke="#000" stroke-width="0.99"/>
<path d="M370.40,39.90L374.00,43.50M374.00,39.90L370.40,43.50" stroke="#000" stroke-width="1.2"/>
<circle cx="372.20" cy="49.50" r="1.89" fill="#fff" stroke="#000" stroke-width="0.99"/>
<rect x="370.48" y="52.68" width="3.44" height="3.44" fill="#000" stroke="#000" stroke-width="0.99"/>
<polygon points="372.20,55.39 374.33,59.24 370.07,59.24" fill="#000" stroke="#000" stroke-width="0.99" stroke-linejoin="round"/>
<rect x="370.48" y="57.58" width="3.44" height="3.44" fill="#000" stroke="#000" stroke-width="0.99"/>
<line x1="365.1" y1="46.3" x2="379.3" y2="46.3" stroke="#7a7a7a" stroke-width="1.2"/>
<polygon points="392.30,27.37 394.43,29.50 392.30,31.63 390.17,29.50" fill="#fff" stroke="#000" stroke-width="0.99"/>
<path d="M390.50,32.40L394.10,36.00M394.10,32.40L390.50,36.00" stroke="#000" stroke-width="1.2"/>
<path d="M390.50,35.20L394.10,38.80M394.10,35.20L390.50,38.80" stroke="#000" stroke-width="1.2"/>
<circle cx="392.30" cy="43.10" r="2.25" fill="#808080" stroke="#222" stroke-width="0.99"/>
<rect x="390.58" y="52.08" width="3.44" height="3.44" fill="#000" stroke="#000" stroke-width="0.99"/>
<rect x="390.58" y="54.88" width="3.44" height="3.44" fill="#000" stroke="#000" stroke-width="0.99"/>
<polygon points="392.30,59.29 394.43,63.14 390.17,63.14" fill="#fff" stroke="#000" stroke-width="0.99" stroke-linejoin="round"/>
<line x1="385.2" y1="43.1" x2="399.4" y2="43.1" stroke="#7a7a7a" stroke-width="1.2"/>
<polygon points="413.20,35.19 415.33,39.04 411.07,39.04" fill="#000" stroke="#000" stroke-width="0.99" stroke-linejoin="round"/>
<polygon points="413.20,45.27 415.33,47.40 413.20,49.53 411.07,47.40" fill="#000" stroke="#000" stroke-width="0.99"/>
<path d="M411.40,48.40L415.00,52.00M415.00,48.40L411.40,52.00" stroke="#000" stroke-width="1.2"/>
<polygon points="413.20,52.27 415.33,54.40 413.20,56.53 411.07,54.40" fill="#fff" stroke="#000" stroke-width="0.99"/>
<circle cx="413.20" cy="61.90" r="2.25" fill="#808080" stroke="#222" stroke-width="0.99"/>
<polygon points="413.20,75.77 415.33,77.90 413.20,80.03 411.07,77.90" fill="#000" stroke="#000" stroke-width="0.99"/>
<polygon points="413.20,80.99 415.33,84.84 411.07,84.84" fill="#000" stroke="#000" stroke-width="0.99" stroke-linejoin="round"/>
<circle cx="413.20" cy="85.80" r="1.89" fill="#000" stroke="#000" stroke-width="0.99"/>
<line x1="406.1" y1="61.9" x2="420.3" y2="61.9" stroke="#7a7a7a" stroke-width="1.2"/>
<rect x="431.68" y="28.68" width="3.44" height="3.44" fill="#808080" stroke="#222" stroke-width="0.99"/>
<line x1="426.3" y1="30.4" x2="440.5" y2="30.4" stroke="#7a7a7a" stroke-width="1.2"/>
<circle cx="453.00" cy="31.60" r="1.89" fill="#000" stroke="#000" stroke-width="0.99"/>
<circle cx="453.00" cy="38.00" r="1.89" fill="#fff" stroke="#000" stroke-width="0.99"/>
<circle cx="453.00" cy="41.70" r="2.25" fill="#808080" stroke="#222" stroke-width="0.99"/>
<path d="M451.20,44.80L454.80,48.40M454.80,44.80L451.20,48.40" stroke="#000" stroke-width="1.2"/>
<rect x="451.28" y="56.38" width="3.44" height="3.44" fill="#000" stroke="#000" stroke-width="0.99"/>
<line x1="447.8" y1="41.7" x2="462.0" y2="41.7" stroke="#7a7a7a" stroke-width="1.2"/>
<polygon points="473.30,28.27 475.43,30.40 473.30,32.53 471.17,30.40" fill="#000" stroke="#000" stroke-width="0.99"/>
<circle cx="473.30" cy="33.10" r="1.89" fill="#000" stroke="#000" stroke-width="0.99"/>
<circle cx="473.30" cy="41.70" r="2.25" fill="#808080" stroke="#222" stroke-width="0.99"/>
<path d="M471.50,44.80L475.10,48.40M475.10,44.80L471.50,48.40" stroke="#000" stroke-width="1.2"/>
<polygon points="473.30,46.89 475.43,50.74 471.17,50.74" fill="#fff" stroke="#000" stroke-width="0.99" stroke-linejoin="round"/>
<rect x="471.58" y="58.08" width="3.44" height="3.44" fill="#000" stroke="#000" stroke-width="0.99"/>
<line x1="468.4" y1="41.7" x2="482.6" y2="41.7" stroke="#7a7a7a" stroke-width="1.2"/>
<polygon points="493.60,35.27 495.73,37.40 493.60,39.53 491.47,37.40" fill="#000" stroke="#000" stroke-width="0.99"/>
<polygon points="493.60,40.17 495.73,42.30 493.60,44.43 491.47,42.30" fill="#fff" stroke="#000" stroke-width="0.99"/>
<path d="M491.80,52.00L495.40,55.60M495.40,52.00L491.80,55.60" stroke="#000" stroke-width="1.2"/>
<polygon points="493.60,57.59 495.73,61.44 491.47,61.44" fill="#fff" stroke="#000" stroke-width="0.99" stroke-linejoin="round"/>
<polygon points="493.60,64.07 495.73,66.20 493.60,68.33 491.47,66.20" fill="#000" stroke="#000" stroke-width="0.99"/>
<rect x="491.88" y="84.08" width="3.44" height="3.44" fill="#000" stroke="#000" stroke-width="0.99"/>
<line x1="486.5" y1="55.5" x2="500.7" y2="55.5" stroke="#7a7a7a" stroke-width="1.2"/>
<text x="272.0" y="201.0" font-size="11" font-weight="bold" stroke="#000" stroke-width="0.4" transform="translate(272,201) scale(0.92,1.12) translate(-272,-201)">E</text>
<text transform="translate(334.8,246.0) rotate(-90)" font-size="7.0" font-weight="bold" text-anchor="start" fill="#000" textLength="26.9" lengthAdjust="spacingAndGlyphs" stroke="#000" stroke-width="0.1">&#8211; Media</text>
<text transform="translate(361.2,246.0) rotate(-90)" font-size="7.0" font-weight="bold" text-anchor="start" fill="#000" textLength="52.2" lengthAdjust="spacingAndGlyphs" stroke="#000" stroke-width="0.1">&#8211; 1ug/mL CD40L</text>
<text transform="translate(386.6,246.0) rotate(-90)" font-size="7.0" font-weight="bold" text-anchor="start" fill="#000" textLength="50.1" lengthAdjust="spacingAndGlyphs" stroke="#000" stroke-width="0.1">&#8211;50ng/mL BAFF</text>
<text transform="translate(413.7,246.0) rotate(-90)" font-size="7.0" font-weight="bold" text-anchor="start" fill="#000" textLength="54.5" lengthAdjust="spacingAndGlyphs" stroke="#000" stroke-width="0.1">&#8211;20ng/mL TNF-&#945;</text>
<text transform="translate(438.1,246.0) rotate(-90)" font-size="7.0" font-weight="bold" text-anchor="start" fill="#000" textLength="41.8" lengthAdjust="spacingAndGlyphs" stroke="#000" stroke-width="0.1">&#8211; Jurkat Cells</text>
<defs><filter id="bl1" x="-50%" y="-50%" width="200%" height="200%"><feGaussianBlur stdDeviation="1.3"/></filter><filter id="bl2" x="-50%" y="-50%" width="200%" height="200%"><feGaussianBlur stdDeviation="0.6"/></filter><filter id="bl3" x="-50%" y="-50%" width="200%" height="200%"><feGaussianBlur stdDeviation="0.9"/></filter><clipPath id="cp1"><rect x="314.8" y="248.1" width="141.6" height="16.5"/></clipPath><clipPath id="cp2"><rect x="314.8" y="266.8" width="141.6" height="16.1"/></clipPath><clipPath id="cp3"><rect x="314.8" y="285.7" width="141.6" height="15.6"/></clipPath></defs>
<rect x="314.8" y="248.1" width="141.6" height="16.5" fill="#bdbdbd"/>
<rect x="314.8" y="266.8" width="141.6" height="16.1" fill="#c0c0c0"/>
<rect x="314.8" y="285.7" width="141.6" height="15.6" fill="#bebebe"/>
<g clip-path="url(#cp1)"><g filter="url(#bl1)">
<rect x="323" y="256.2" width="16.5" height="1.8" rx="0.9" fill="#989898"/>
<rect x="349.8" y="248" width="16.2" height="16" rx="2.5" fill="#929292"/>
<rect x="351" y="251" width="14" height="7.5" rx="3" fill="#6c6c6c"/>
<rect x="375.5" y="249.5" width="16" height="13" rx="4" fill="#a4a4a4"/>
<rect x="376" y="256" width="15" height="3" rx="1.5" fill="#858585"/>
<rect x="400.5" y="249.5" width="17.5" height="13" rx="4" fill="#a0a0a0"/>
<rect x="401" y="257" width="16.5" height="3" rx="1.5" fill="#7a7a7a"/>
</g>
<g filter="url(#bl2)">
<path d="M425.2,247 L450.4,247 Q451.3,253 449,257.5 Q446.5,259.5 442,258.3 Q438.5,255.8 435,258.3 Q430,259.8 427,257.8 Q424.3,253 425.2,247Z" fill="#0d0d0d"/>
</g></g>
<defs><linearGradient id="smr" x1="0" y1="0" x2="0" y2="1"><stop offset="0" stop-color="#6c6c6c"/><stop offset="0.35" stop-color="#8e8e8e"/><stop offset="1" stop-color="#5a5a5a"/></linearGradient></defs>
<g clip-path="url(#cp2)">
<g filter="url(#bl3)">
<rect x="319.5" y="267.3" width="17.5" height="8" rx="1.5" fill="url(#smr)"/>
<rect x="346.5" y="267.3" width="17" height="8" rx="1.5" fill="url(#smr)"/>
<rect x="400" y="271.5" width="17" height="4" rx="2" fill="#8a8a8a"/>
<ellipse cx="436.5" cy="275" rx="10" ry="4.5" fill="#b2b2b2"/>
</g>
<g filter="url(#bl2)">
<path d="M318.3,276.5 Q318.3,273 322,272.8 L336,272.8 Q339.2,273.2 339.1,276.5 Q339,280.6 335,280.6 L322,280.8 Q318.4,280.5 318.3,276.5Z" fill="#0e0e0e"/>
<path d="M345.6,276.5 Q345.6,273 349,272.8 L361.5,272.8 Q364.8,273.2 364.7,276.5 Q364.6,280.6 361,280.6 L349,280.8 Q345.7,280.5 345.6,276.5Z" fill="#0e0e0e"/>
<rect x="372.9" y="275.0" width="17.6" height="4.2" rx="2.1" fill="#1a1a1a"/>
<rect x="398.5" y="274.2" width="20.0" height="5.3" rx="2.6" fill="#131313"/>
</g></g>
<g clip-path="url(#cp3)">
<g filter="url(#bl2)">
<rect x="320.0" y="291.7" width="18.9" height="5.2" rx="2.6" fill="#111"/>
<rect x="346.3" y="291.8" width="18.5" height="5.0" rx="2.5" fill="#111"/>
<rect x="372.5" y="292.5" width="18.0" height="4.8" rx="2.4" fill="#111"/>
<rect x="397.6" y="292.8" width="20.6" height="4.2" rx="2.1" fill="#111"/>
</g></g>
<g filter="url(#bl2)"><path d="M423.8,285.4 L446.8,285.4 Q449.5,290 449.4,295.5 Q449.2,301.5 443,302.6 L427.5,302.6 Q421,301.8 420.8,295.5 Q420.8,289.5 423.8,285.4Z" fill="#0a0a0a"/></g>
<text x="461.8" y="258.4" font-size="6.3" font-weight="bold" text-anchor="start" fill="#000" textLength="18.9" lengthAdjust="spacingAndGlyphs" stroke="#000" stroke-width="0.4">p-AKT</text>
<text x="461.8" y="280.9" font-size="6.3" font-weight="bold" text-anchor="start" fill="#000" textLength="12.1" lengthAdjust="spacingAndGlyphs" stroke="#000" stroke-width="0.4">AKT</text>
<text x="463.6" y="301.2" font-size="6.3" font-weight="bold" text-anchor="start" fill="#000" textLength="15.0" lengthAdjust="spacingAndGlyphs" stroke="#000" stroke-width="0.4">Actin</text>
<text x="319.6" y="324.2" font-size="7.65" font-weight="bold" text-anchor="start" fill="#000" textLength="143.7" lengthAdjust="spacingAndGlyphs" stroke="#000" stroke-width="0.25">Quantification of pAKT/AKT expression</text>
<text transform="translate(308.6,372.1) rotate(-90)" font-size="6.6" font-weight="bold" text-anchor="middle" fill="#000" textLength="95.3" lengthAdjust="spacingAndGlyphs" stroke="#000" stroke-width="0.2">Ratio of pAKT/AKT normalized</text>
<text transform="translate(316.8,374.3) rotate(-90)" font-size="6.6" font-weight="bold" text-anchor="middle" fill="#000" textLength="64.0" lengthAdjust="spacingAndGlyphs" stroke="#000" stroke-width="0.2">to untreated control</text>
<line x1="330.4" y1="333.0" x2="330.4" y2="412.6" stroke="#000" stroke-width="1.3"/>
<line x1="327.2" y1="333.5" x2="330.4" y2="333.5" stroke="#000" stroke-width="1.2"/>
<text x="326.6" y="335.7" font-size="6.0" font-weight="bold" text-anchor="end" fill="#000" textLength="7.5" lengthAdjust="spacingAndGlyphs" stroke="#000" stroke-width="0.1">2.5</text>
<line x1="327.2" y1="349.2" x2="330.4" y2="349.2" stroke="#000" stroke-width="1.2"/>
<text x="326.6" y="351.4" font-size="6.0" font-weight="bold" text-anchor="end" fill="#000" textLength="7.5" lengthAdjust="spacingAndGlyphs" stroke="#000" stroke-width="0.1">2.0</text>
<line x1="327.2" y1="364.9" x2="330.4" y2="364.9" stroke="#000" stroke-width="1.2"/>
<text x="326.6" y="367.1" font-size="6.0" font-weight="bold" text-anchor="end" fill="#000" textLength="7.5" lengthAdjust="spacingAndGlyphs" stroke="#000" stroke-width="0.1">1.5</text>
<line x1="327.2" y1="380.6" x2="330.4" y2="380.6" stroke="#000" stroke-width="1.2"/>
<text x="326.6" y="382.8" font-size="6.0" font-weight="bold" text-anchor="end" fill="#000" textLength="7.5" lengthAdjust="spacingAndGlyphs" stroke="#000" stroke-width="0.1">1.0</text>
<line x1="327.2" y1="396.3" x2="330.4" y2="396.3" stroke="#000" stroke-width="1.2"/>
<text x="326.6" y="398.5" font-size="6.0" font-weight="bold" text-anchor="end" fill="#000" textLength="7.5" lengthAdjust="spacingAndGlyphs" stroke="#000" stroke-width="0.1">0.5</text>
<line x1="327.2" y1="412.0" x2="330.4" y2="412.0" stroke="#000" stroke-width="1.2"/>
<text x="326.6" y="414.2" font-size="6.0" font-weight="bold" text-anchor="end" fill="#000" textLength="7.5" lengthAdjust="spacingAndGlyphs" stroke="#000" stroke-width="0.1">0.0</text>
<line x1="329.8" y1="412.2" x2="450.0" y2="412.2" stroke="#000" stroke-width="1.3"/>
<line x1="346.5" y1="412.2" x2="346.5" y2="415.2" stroke="#000" stroke-width="1.2"/>
<line x1="375.7" y1="412.2" x2="375.7" y2="415.2" stroke="#000" stroke-width="1.2"/>
<line x1="405.4" y1="412.2" x2="405.4" y2="415.2" stroke="#000" stroke-width="1.2"/>
<line x1="435.3" y1="412.2" x2="435.3" y2="415.2" stroke="#000" stroke-width="1.2"/>
<defs><pattern id="chk" x="365.6" y="364.1" width="3" height="3" patternUnits="userSpaceOnUse"><rect width="3" height="3" fill="#f4f4f4"/><rect width="1.5" height="1.5" fill="#000"/><rect x="1.5" y="1.5" width="1.5" height="1.5" fill="#000"/></pattern><pattern id="hst" width="2.2" height="2.2" patternUnits="userSpaceOnUse"><rect width="2.2" height="2.2" fill="#cbcbcb"/><rect width="2.2" height="0.9" fill="#9c9c9c"/></pattern><pattern id="vst" width="2.2" height="2.2" patternUnits="userSpaceOnUse"><rect width="2.2" height="2.2" fill="#f0f0f0"/><rect width="0.9" height="2.2" fill="#9a9a9a"/></pattern></defs>
<rect x="336.6" y="380.6" width="19.8" height="31.6" fill="#858585" stroke="#000" stroke-width="1.15"/>
<rect x="365.6" y="364.1" width="20.6" height="48.1" fill="url(#chk)" stroke="#000" stroke-width="1.15"/>
<rect x="395.6" y="345.0" width="20.0" height="67.2" fill="url(#hst)" stroke="#000" stroke-width="1.15"/>
<rect x="425.4" y="356.5" width="19.8" height="55.7" fill="url(#vst)" stroke="#000" stroke-width="1.15"/>
<text x="332.6" y="420.5" font-size="6.3" font-weight="bold" text-anchor="start" fill="#000" textLength="27.2" lengthAdjust="spacingAndGlyphs" stroke="#000" stroke-width="0.2">Untreated</text>
<text x="366.5" y="420.5" font-size="6.3" font-weight="bold" text-anchor="start" fill="#000" textLength="18.9" lengthAdjust="spacingAndGlyphs" stroke="#000" stroke-width="0.2">CD40L</text>
<text x="397.5" y="420.5" font-size="6.3" font-weight="bold" text-anchor="start" fill="#000" textLength="15.3" lengthAdjust="spacingAndGlyphs" stroke="#000" stroke-width="0.2">BAFF</text>
<text x="429.2" y="420.5" font-size="6.3" font-weight="bold" text-anchor="start" fill="#000" textLength="17.6" lengthAdjust="spacingAndGlyphs" stroke="#000" stroke-width="0.2">TNF-&#945;</text>
</svg></body></html>
